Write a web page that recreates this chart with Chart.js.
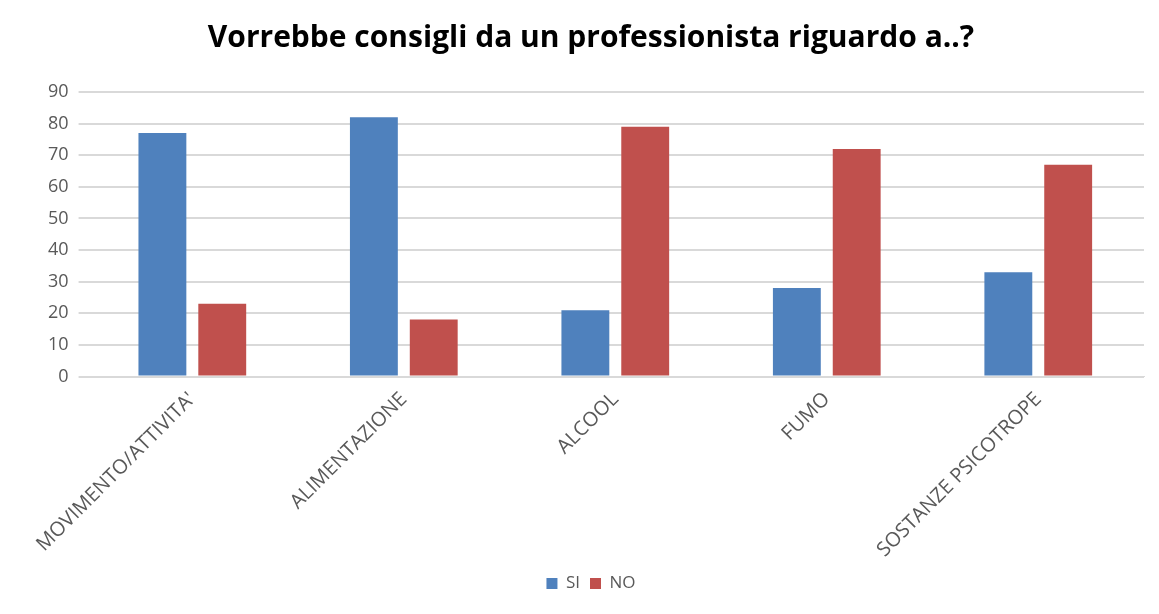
<!DOCTYPE html>
<html><head><meta charset="utf-8">
<script src="https://cdn.jsdelivr.net/npm/chart.js@4"></script>
<style>html,body{margin:0;padding:0;background:#fff}#w{width:1159px;height:614px}</style>
</head><body><div id="w"><canvas id="c"></canvas></div>
<script>
const categories = ["MOVIMENTO/ATTIVITA'", "ALIMENTAZIONE", "ALCOOL", "FUMO", "SOSTANZE PSICOTROPE"];
const siValues = [77, 82, 21, 28, 33];
const noValues = [23, 18, 79, 72, 67];
const yTicks = [0,10,20,30,40,50,60,70,80,90];
const font = "'Open Sans', 'Liberation Sans', sans-serif";
new Chart(document.getElementById('c'), {
  type: 'bar',
  data: { labels: categories, datasets: [
    { label: 'SI', data: siValues, backgroundColor: '#4f81bd' },
    { label: 'NO', data: noValues, backgroundColor: '#c0504d' }
  ]},
  options: {
    responsive: true, maintainAspectRatio: false, animation: false,
    layout: { padding: { left: 38, right: 15, top: 8, bottom: 12 } },
    categoryPercentage: 0.566, barPercentage: 0.8,
    plugins: {
      title: { display: true, text: 'Vorrebbe consigli da un professionista riguardo a..?', color: '#000',
        font: { family: font, size: 30, weight: 'bold' }, padding: { top: 12, bottom: 36 } },
      legend: { position: 'bottom', labels: { boxWidth: 11, boxHeight: 11, color: '#595959', font: { family: font, size: 17 } } },
      tooltip: { enabled: false }
    },
    scales: {
      x: { grid: { display: false }, border: { color: '#d9d9d9' },
        ticks: { minRotation: 45, maxRotation: 45, color: '#595959', font: { family: font, size: 20 } } },
      y: { min: 0, max: 90, afterBuildTicks: a => { a.ticks = yTicks.map(v => ({ value: v })); },
        grid: { color: '#d9d9d9', lineWidth: 2 }, border: { display: false },
        ticks: { color: '#595959', font: { family: font, size: 18 }, padding: 10 } }
    }
  }
});
</script></body></html>
